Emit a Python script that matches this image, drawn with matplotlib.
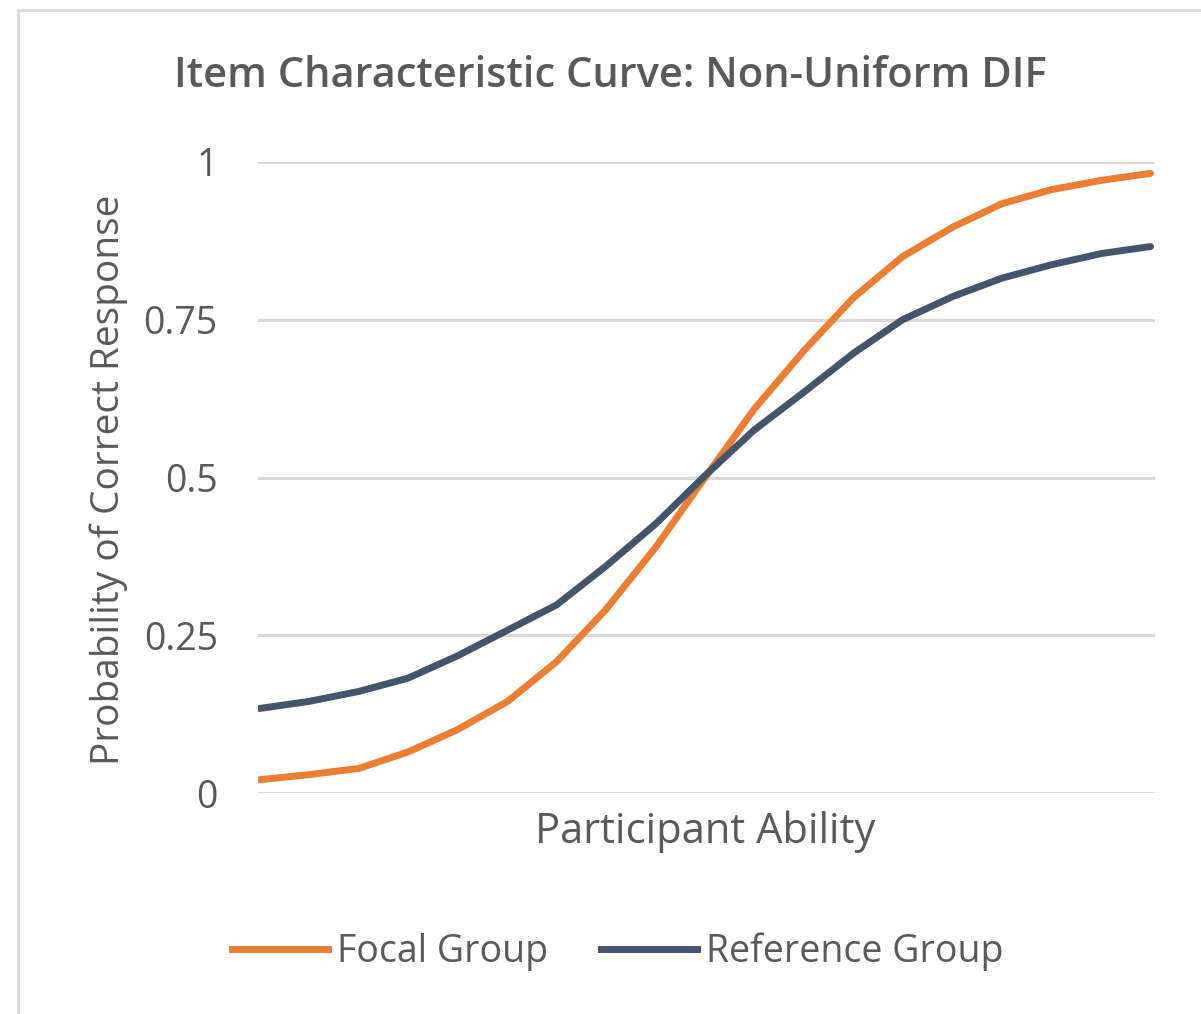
import numpy as np
import matplotlib
matplotlib.use("Agg")
import matplotlib.pyplot as plt
from matplotlib.lines import Line2D
from matplotlib.patches import Rectangle

# ability grid (x axis has no tick labels) and probabilities
ability = [-3.0, -2.67, -2.33, -2.0, -1.67, -1.33, -1.0, -0.67, -0.33, 0.0,
           0.33, 0.67, 1.0, 1.33, 1.67, 2.0, 2.33, 2.67, 3.0]
focal = [0.021, 0.029, 0.039, 0.065, 0.100, 0.145, 0.208, 0.290, 0.390, 0.500,
         0.608, 0.702, 0.785, 0.850, 0.897, 0.934, 0.956, 0.971, 0.982]
reference = [0.134, 0.145, 0.161, 0.182, 0.217, 0.258, 0.298, 0.359, 0.427, 0.503,
             0.575, 0.636, 0.697, 0.750, 0.787, 0.816, 0.837, 0.855, 0.866]
yticks = [0, 0.25, 0.5, 0.75, 1]
ytick_labels = ["0", "0.25", "0.5", "0.75", "1"]
series_names = ["Focal Group", "Reference Group"]

ORANGE = "#ED7D31"
NAVY = "#44546A"
TXT = "#595959"
GRID = "#D9D9D9"

plt.rcParams["font.family"] = ["Open Sans", "DejaVu Sans"]

W, H = 1201, 1014
fig = plt.figure(figsize=(W / 100, H / 100), dpi=100)

# outer chart border
fig.patches.append(Rectangle((18 / W, -0.01), 1.0, 1 - 10 / H + 0.01,
                             transform=fig.transFigure, fill=False,
                             edgecolor=GRID, lw=2))

ax = fig.add_axes([258 / W, 1 - 793 / H, (1155 - 258) / W, (793 - 162) / H])
ax.plot(ability, focal, color=ORANGE, lw=5, solid_capstyle="round", zorder=3)
ax.plot(ability, reference, color=NAVY, lw=5, solid_capstyle="round", zorder=3)

ax.set_xlim(-3.01, 3.03)
ax.set_ylim(0, 1)
ax.set_yticks(yticks)
ax.set_yticklabels(ytick_labels)
ax.set_xticks([])
for s in ax.spines.values():
    s.set_visible(False)
for y in yticks:
    ax.axhline(y, color=GRID, lw=2.2, zorder=1)
ax.tick_params(axis="y", length=0, pad=29, labelsize=27, labelcolor=TXT)

ax.set_ylabel("Probability of Correct Response", fontsize=28, color=TXT,
              va="center", ha="center")
ax.yaxis.set_label_coords(-0.167, 0.496)
ax.set_xlabel("Participant Ability", fontsize=30, color=TXT,
              va="center", ha="center")
ax.xaxis.set_label_coords(0.498, -0.062)

fig.text(610 / W, 1 - 76 / H, "Item Characteristic Curve: Non-Uniform DIF",
         ha="center", va="center", fontsize=30, fontweight="semibold",
         color=TXT)

handles = [Line2D([], [], color=ORANGE, lw=5), Line2D([], [], color=NAVY, lw=5)]
fig.legend(handles, series_names, loc="center", ncol=2, frameon=False,
           bbox_to_anchor=(618 / W, 1 - 952 / H), fontsize=27,
           labelcolor=TXT, handlelength=2.56, handletextpad=0.24,
           columnspacing=1.41)

fig.savefig("out.png", dpi=100)
